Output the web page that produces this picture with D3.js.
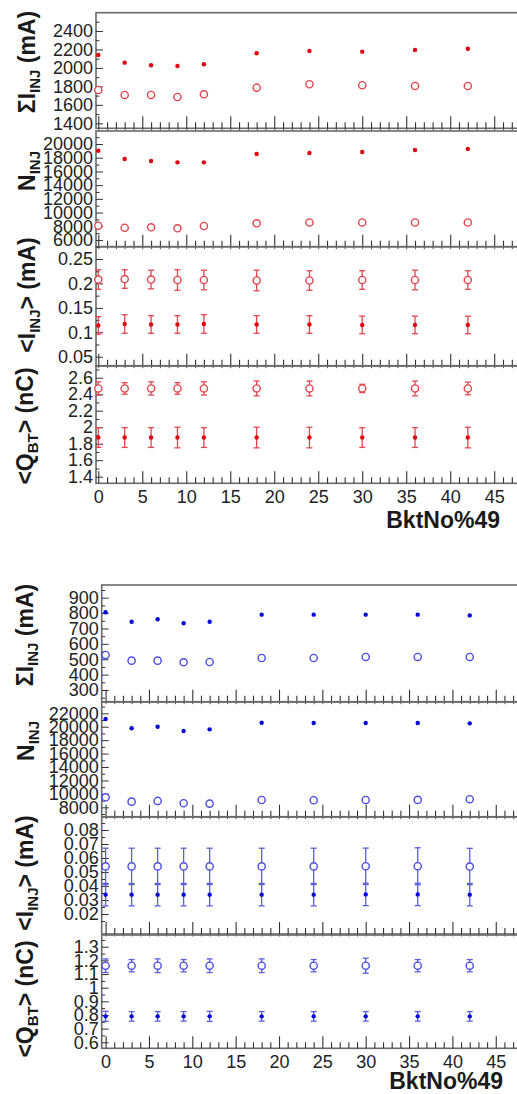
<!DOCTYPE html>
<html><head><meta charset="utf-8">
<script src="https://cdn.jsdelivr.net/npm/d3@7"></script>
<style>body{margin:0;background:#fff}svg{display:block}</style>
</head><body>
<script>
// ---------------- DATA ----------------
const bktNo = [0, 3, 6, 9, 12, 18, 24, 30, 36, 42];
const xTickValues = [0, 5, 10, 15, 20, 25, 30, 35, 40, 45];

// red group (top)
const redSumIFilled = [2140, 2057, 2029, 2021, 2039, 2159, 2183, 2176, 2194, 2208];
const redSumIOpen   = [1761, 1707, 1707, 1685, 1714, 1786, 1823, 1812, 1804, 1804];
const redNFilled    = [19017, 17807, 17516, 17326, 17326, 18536, 18680, 18830, 19120, 19270];
const redNOpen      = [8084, 7793, 7851, 7705, 8040, 8434, 8550, 8550, 8550, 8550];
const redIavgOpen      = [0.208, 0.209, 0.208, 0.207, 0.207, 0.206, 0.206, 0.207, 0.207, 0.207];
const redIavgOpenErr   = [0.020, 0.019, 0.019, 0.021, 0.020, 0.021, 0.020, 0.019, 0.020, 0.019];
const redIavgFilled    = [0.114, 0.117, 0.116, 0.116, 0.117, 0.116, 0.116, 0.115, 0.115, 0.115];
const redIavgFilledErr = [0.018, 0.019, 0.018, 0.018, 0.019, 0.018, 0.018, 0.018, 0.018, 0.018];
const redQOpen      = [2.47, 2.47, 2.47, 2.47, 2.47, 2.47, 2.47, 2.47, 2.47, 2.47];
const redQOpenErr   = [0.08, 0.07, 0.08, 0.07, 0.08, 0.09, 0.09, 0.05, 0.09, 0.077];
const redQFilled    = [1.875, 1.875, 1.875, 1.875, 1.875, 1.875, 1.875, 1.875, 1.875, 1.875];
const redQFilledErr = [0.12, 0.12, 0.12, 0.125, 0.12, 0.125, 0.125, 0.12, 0.12, 0.125];

// blue group (bottom)
const blueSumIFilled = [805, 744, 760, 734, 744, 790, 790, 790, 790, 785];
const blueSumIOpen   = [528, 491, 491, 480, 482, 508, 508, 515, 515, 515];
const blueNFilled    = [21150, 19770, 20000, 19360, 19610, 20600, 20550, 20550, 20550, 20500];
const blueNOpen      = [9490, 8840, 8950, 8600, 8550, 9090, 9050, 9090, 9100, 9200];
const blueIavgOpen      = [0.0540, 0.0540, 0.0540, 0.0540, 0.0540, 0.0540, 0.0540, 0.0541, 0.0541, 0.0539];
const blueIavgOpenErr   = [0.0130, 0.0130, 0.0130, 0.0130, 0.0130, 0.0130, 0.0130, 0.0130, 0.0132, 0.0130];
const blueIavgFilled    = [0.0338, 0.0338, 0.0338, 0.0338, 0.0338, 0.0338, 0.0338, 0.0340, 0.0340, 0.0338];
const blueIavgFilledErr = [0.0080, 0.0080, 0.0080, 0.0080, 0.0080, 0.0080, 0.0080, 0.0080, 0.0080, 0.0080];
const blueQOpen      = [1.161, 1.161, 1.161, 1.161, 1.161, 1.161, 1.161, 1.161, 1.161, 1.161];
const blueQOpenErr   = [0.05, 0.045, 0.05, 0.045, 0.05, 0.05, 0.045, 0.055, 0.045, 0.045];
const blueQFilled    = [0.79, 0.79, 0.79, 0.79, 0.79, 0.79, 0.79, 0.79, 0.79, 0.79];
const blueQFilledErr = [0.037, 0.035, 0.035, 0.035, 0.037, 0.035, 0.035, 0.035, 0.035, 0.035];

// tick labels
const ticksRedSumI  = [1400, 1600, 1800, 2000, 2200, 2400];
const ticksRedN     = [6000, 8000, 10000, 12000, 14000, 16000, 18000, 20000];
const ticksRedIavg  = [0.05, 0.1, 0.15, 0.2, 0.25];
const ticksRedQ     = [1.4, 1.6, 1.8, 2, 2.2, 2.4, 2.6];
const ticksBlueSumI = [300, 400, 500, 600, 700, 800, 900];
const ticksBlueN    = [8000, 10000, 12000, 14000, 16000, 18000, 20000, 22000];
const ticksBlueIavg = [0.02, 0.03, 0.04, 0.05, 0.06, 0.07, 0.08];
const ticksBlueQ    = [0.6, 0.7, 0.8, 0.9, 1, 1.1, 1.2, 1.3];

const xTitle = "BktNo%49";
const tSumI = [["ΣI"], ["INJ", 1], [" (mA)"]];
const tN    = [["N"], ["INJ", 1]];
const tIavg = [["<I"], ["INJ", 1], ["> (mA)"]];
const tQ    = [["<Q"], ["BT", 1], ["> (nC)"]];

// ---------------- LAYOUT ----------------
const W = 517, H = 1094;
const FONT = "'Liberation Sans', Arial, Helvetica, sans-serif";
const svg = d3.select("body").append("svg").attr("width", W).attr("height", H);

const red = {fill: "#e0000e", open: "#e2444b", err: "#e3474f"};
const blue = {fill: "#0808d6", open: "#4b4be6", err: "#5d5de0"};

const groups = [
  {left: 96, right: 525, xDomain: [-0.26, 48.5], col: red, xTitleX: 500, xTitleY: 528,
   panels: [
     {top: 12.7, bottom: 128.3, domain: [1346, 2598], ticks: ticksRedSumI, title: tSumI, tx: 35, ty: 62,
      series: [{v: redSumIFilled, open: false}, {v: redSumIOpen, open: true}]},
     {top: 131, bottom: 246.7, domain: [5023, 21895], ticks: ticksRedN, title: tN, tx: 35, ty: 171,
      series: [{v: redNFilled, open: false}, {v: redNOpen, open: true}]},
     {top: 246.7, bottom: 365.7, domain: [0.0316, 0.2752], ticks: ticksRedIavg, title: tIavg, tx: 35, ty: 295,
      series: [{v: redIavgOpen, e: redIavgOpenErr, open: true}, {v: redIavgFilled, e: redIavgFilledErr, open: false}]},
     {top: 366, bottom: 483.3, domain: [1.32, 2.742], ticks: ticksRedQ, title: tQ, tx: 33, ty: 426,
      series: [{v: redQOpen, e: redQOpenErr, open: true}, {v: redQFilled, e: redQFilledErr, open: false}]}
   ]},
  {left: 101.7, right: 526.1, xDomain: [-0.45, 48.5], col: blue, xTitleX: 503, xTitleY: 1089,
   panels: [
     {top: 585, bottom: 701.7, domain: [224, 982.6], ticks: ticksBlueSumI, title: tSumI, tx: 33, ty: 635,
      series: [{v: blueSumIFilled, open: false}, {v: blueSumIOpen, open: true}]},
     {top: 702, bottom: 816.7, domain: [6600, 23683], ticks: ticksBlueN, title: tN, tx: 34, ty: 741,
      series: [{v: blueNFilled, open: false}, {v: blueNOpen, open: true}]},
     {top: 817, bottom: 934, domain: [0.0057, 0.0893], ticks: ticksBlueIavg, title: tIavg, tx: 33, ty: 873,
      series: [{v: blueIavgOpen, e: blueIavgOpenErr, open: true}, {v: blueIavgFilled, e: blueIavgFilledErr, open: false}]},
     {top: 935, bottom: 1048.3, domain: [0.556, 1.386], ticks: ticksBlueQ, title: tQ, tx: 33, ty: 999,
      series: [{v: blueQOpen, e: blueQOpenErr, open: true}, {v: blueQFilled, e: blueQFilledErr, open: false}]}
   ]}
];

const fmt = d3.format("~g");

groups.forEach(grp => {
  const x = d3.scaleLinear().domain(grp.xDomain).range([grp.left, grp.right]);
  const majors = xTickValues;
  const minors = d3.range(0, 49).filter(k => k % 5 !== 0);
  grp.panels.forEach((p, pi) => {
    const isLast = pi === grp.panels.length - 1;
    const y = d3.scaleLinear().domain(p.domain).range([p.bottom, p.top]);
    const g = svg.append("g");

    // frame
    g.append("rect").attr("x", grp.left).attr("y", p.top)
      .attr("width", grp.right - grp.left).attr("height", p.bottom - p.top)
      .attr("fill", "none").attr("stroke", "#6a6a6a").attr("stroke-width", 1.6);

    // x ticks (pointing up from bottom)
    const axMaj = g.append("g").attr("transform", `translate(0,${p.bottom})`)
      .call(d3.axisBottom(x).tickValues(majors).tickSizeInner(-12).tickSizeOuter(0)
        .tickPadding(7.4).tickFormat(isLast ? fmt : ""));
    const axMin = g.append("g").attr("transform", `translate(0,${p.bottom})`)
      .call(d3.axisBottom(x).tickValues(minors).tickSizeInner(-6).tickSizeOuter(0).tickFormat(""));
    [axMaj, axMin].forEach(a => {
      a.select(".domain").remove();
      a.selectAll("line").attr("stroke", "#333").attr("stroke-width", 1.1);
    });
    if (!isLast) {
      const axDown = g.append("g").attr("transform", `translate(0,${p.bottom})`)
        .call(d3.axisBottom(x).tickValues(d3.range(0, 49)).tickSizeInner(2.5).tickSizeOuter(0).tickFormat(""));
      axDown.select(".domain").remove();
      axDown.selectAll("line").attr("stroke", "#555").attr("stroke-width", 1);
    }
    axMaj.selectAll("text").attr("font-family", FONT).attr("font-size", 18).attr("fill", "#222");

    // y ticks
    const step = p.ticks[1] - p.ticks[0];
    const yMinor = [];
    for (let i = -1; i < p.ticks.length; i++) {
      const m = p.ticks[0] + (i + 0.5) * step;
      if (m > p.domain[0] && m < p.domain[1]) yMinor.push(m);
    }
    const ay = g.append("g").attr("transform", `translate(${grp.left},0)`)
      .call(d3.axisLeft(y).tickValues(p.ticks).tickSizeInner(-7).tickSizeOuter(0).tickPadding(3).tickFormat(fmt));
    const ayMin = g.append("g").attr("transform", `translate(${grp.left},0)`)
      .call(d3.axisLeft(y).tickValues(yMinor).tickSizeInner(-3.5).tickSizeOuter(0).tickFormat(""));
    [ay, ayMin].forEach(a => {
      a.select(".domain").remove();
      a.selectAll("line").attr("stroke", "#333").attr("stroke-width", 1);
    });
    ay.selectAll("text").attr("font-family", FONT).attr("font-size", 18).attr("fill", "#222");

    // y title
    const t = g.append("text").attr("transform", `translate(${p.tx},${p.ty}) rotate(-90)`)
      .attr("text-anchor", "middle").attr("font-family", FONT).attr("font-weight", "bold")
      .attr("font-size", 23).attr("fill", "#1a1a1a");
    let shift = 0;
    p.title.forEach(([s, sub]) => {
      const ts = t.append("tspan").text(s);
      if (sub) { ts.attr("font-size", 15).attr("dy", 5); shift = 5; }
      else if (shift) { ts.attr("dy", -shift); shift = 0; }
    });

    // series: error bars first, then markers
    p.series.forEach(s => {
      const pts = bktNo.map((b, i) => ({x: b, v: s.v[i], e: s.e ? s.e[i] : 0}));
      if (s.e) {
        const eg = g.append("g").attr("stroke", grp.col.err).attr("stroke-width", 1.3);
        eg.selectAll("line.v").data(pts).join("line")
          .attr("x1", d => x(d.x)).attr("x2", d => x(d.x))
          .attr("y1", d => y(d.v - d.e)).attr("y2", d => y(d.v + d.e));
        eg.selectAll("line.t").data(pts).join("line")
          .attr("x1", d => x(d.x) - 3).attr("x2", d => x(d.x) + 3)
          .attr("y1", d => y(d.v + d.e)).attr("y2", d => y(d.v + d.e));
        eg.selectAll("line.b").data(pts).join("line")
          .attr("x1", d => x(d.x) - 3).attr("x2", d => x(d.x) + 3)
          .attr("y1", d => y(d.v - d.e)).attr("y2", d => y(d.v - d.e));
      }
      s.pts = pts;
    });
    p.series.forEach(s => {
      g.append("g").selectAll("circle").data(s.pts).join("circle")
        .attr("cx", d => x(d.x)).attr("cy", d => y(d.v))
        .attr("r", s.open ? 3.6 : 2.2)
        .attr("fill", s.open ? "#fff" : grp.col.fill)
        .attr("stroke", s.open ? grp.col.open : "none")
        .attr("stroke-width", s.open ? 1.4 : 0);
    });
  });

  // x title
  svg.append("text").attr("x", grp.xTitleX).attr("y", grp.xTitleY)
    .attr("text-anchor", "end").attr("font-family", FONT).attr("font-weight", "bold")
    .attr("font-size", 23).attr("fill", "#1a1a1a").text(xTitle);
});
</script>
</body></html>
